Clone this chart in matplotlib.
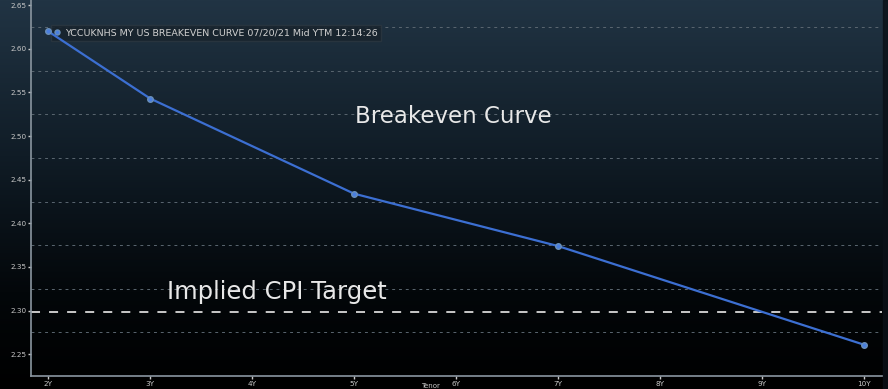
import numpy as np
import matplotlib.pyplot as plt
from matplotlib.colors import LinearSegmentedColormap

# Curve data
tenors = [2, 3, 5, 7, 10]
breakeven = [2.620, 2.543, 2.434, 2.374, 2.261]
tick_tenors = [2, 3, 4, 5, 6, 7, 8, 9, 10]
tick_labels = ["2Y", "3Y", "4Y", "5Y", "6Y", "7Y", "8Y", "9Y", "10Y"]
y_ticks = [2.25, 2.30, 2.35, 2.40, 2.45, 2.50, 2.55, 2.60, 2.65]
grid_levels = [2.275, 2.325, 2.375, 2.425, 2.475, 2.525, 2.575, 2.625]
cpi_target = 2.298

legend_text = "YCCUKNHS MY US BREAKEVEN CURVE 07/20/21 Mid YTM 12:14:26"

fig = plt.figure(figsize=(8.88, 3.89), dpi=100)
fig.patch.set_facecolor("black")

# Background gradient, dark slate at top fading to black
bg = fig.add_axes([0, 0, 1, 1], zorder=0)
grad_cmap = LinearSegmentedColormap.from_list(
    "bg", [(0.0, "#000000"), (0.25, "#03070a"), (0.6, "#101c26"), (1.0, "#213444")])
bg.imshow(np.linspace(0, 1, 256).reshape(-1, 1), aspect="auto", cmap=grad_cmap,
          origin="lower", extent=[0, 1, 0, 1])
bg.axvspan(0.994, 1, color="#0b1118", alpha=0.8)
bg.set_xlim(0, 1)
bg.set_ylim(0, 1)
bg.axis("off")

ax = fig.add_axes([31 / 888, 13 / 389, 851 / 888, 376 / 389], zorder=1)
ax.patch.set_alpha(0)

for lvl in grid_levels:
    ax.axhline(lvl, color="#5a6670", lw=0.7, ls=(0, (3, 4)), zorder=1)

ax.axhline(cpi_target, color="#d8d8d8", lw=1.3, ls=(0, (5, 5)), zorder=2)

ax.plot(tenors, breakeven, color="#3c6fd2", lw=1.6, marker="o", ms=4,
        markerfacecolor="#4a7fe0", markeredgecolor="#6a8fb8", zorder=3,
        label=legend_text)

ax.set_xlim(1.83, 10.18)
ax.set_ylim(2.225, 2.656)
ax.set_xticks(tick_tenors)
ax.set_xticklabels(tick_labels)
ax.set_yticks(y_ticks)
ax.set_yticklabels([f"{v:.2f}" for v in y_ticks])
ax.tick_params(axis="both", colors="#c8c8c8", labelsize=5.2, length=2.5, width=1, pad=0.8)

# axis title sits right on the bottom edge, as in the screenshot
fig.text(430 / 888, 0.5 / 389, "Tenor", color="#c8c8c8", fontsize=5,
         ha="center", va="bottom")

for side in ["top", "right"]:
    ax.spines[side].set_visible(False)
for side in ["left", "bottom"]:
    ax.spines[side].set_color("#8a96a0")
    ax.spines[side].set_linewidth(1.2)

ax.text(5.01, 2.523, "Breakeven Curve", color="#e8e8e8", fontsize=16.5,
        va="center", ha="left")
ax.text(3.16, 2.321, "Implied CPI Target", color="#e8e8e8", fontsize=17.5,
        va="center", ha="left")

leg = ax.legend(loc="upper left", bbox_to_anchor=(0.023, 0.934), fontsize=6.8,
                frameon=True, fancybox=False, markerscale=0.9, handlelength=0.6,
                handletextpad=0.5, borderpad=0.4, labelcolor="#d0d0d0",
                borderaxespad=0)
leg.get_frame().set_facecolor("#18232d")
leg.get_frame().set_edgecolor("#2a3640")
leg.get_frame().set_alpha(0.9)
leg.set_zorder(2.5)
leg.legend_handles[0].set_linestyle("none")

fig.savefig("out.png", dpi=100, facecolor=fig.get_facecolor())
